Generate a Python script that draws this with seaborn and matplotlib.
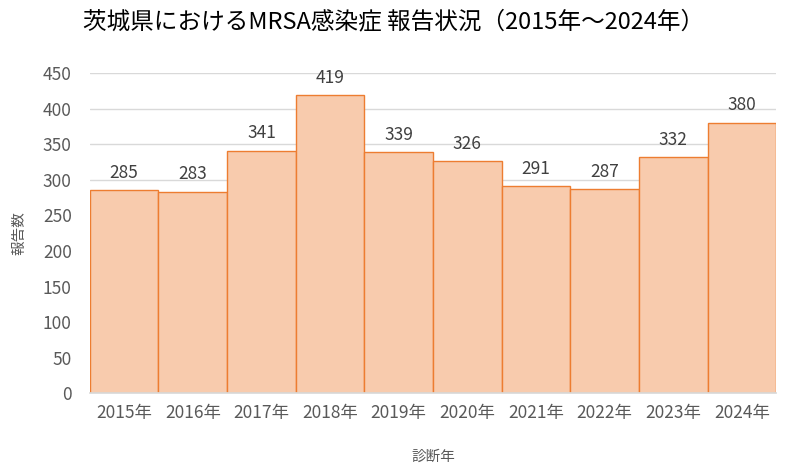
import pandas as pd
import matplotlib
matplotlib.use('Agg')
import matplotlib.pyplot as plt
import seaborn as sns

years = ['2015年', '2016年', '2017年', '2018年', '2019年',
         '2020年', '2021年', '2022年', '2023年', '2024年']
reports = [285, 283, 341, 419, 339, 326, 291, 287, 332, 380]

sns.set_theme(style='white')
plt.rcParams['font.family'] = ['Noto Sans CJK JP', 'DejaVu Sans']

df = pd.DataFrame({'year': years, 'count': reports})

fig = plt.figure(figsize=(7.88, 4.72), dpi=100)
ax = fig.add_axes([0.114, 0.167, 0.871, 0.678])

sns.barplot(data=df, x='year', y='count', ax=ax, width=1.0,
            color='#F8CBAD', edgecolor='#ED7D31', linewidth=1.0, saturation=1)

for i, v in enumerate(reports):
    ax.text(i, v + 12, str(v), ha='center', va='bottom', fontsize=12.5, color='#404040')

ax.set_ylim(0, 450)
ax.set_yticks(range(0, 451, 50))
ax.set_xlim(-0.5, len(years) - 0.5)
ax.yaxis.grid(True, color='#D9D9D9', linewidth=1)
ax.set_axisbelow(True)
for s in ['top', 'right', 'left']:
    ax.spines[s].set_visible(False)
ax.spines['bottom'].set_color('#D9D9D9')
ax.tick_params(axis='both', length=0, labelsize=12.5, labelcolor='#595959')
ax.tick_params(axis='x', pad=8)
ax.tick_params(axis='y', pad=13)

ax.set_xlabel('診断年', fontsize=10.5, color='#595959', labelpad=20)
ax.set_ylabel('報告数', fontsize=10.5, color='#595959', labelpad=12)

fig.text(0.5, 0.953, '茨城県におけるMRSA感染症 報告状況（2015年～2024年）',
         ha='center', va='center', fontsize=17, color='#000000')

fig.savefig('out.png', dpi=100)
